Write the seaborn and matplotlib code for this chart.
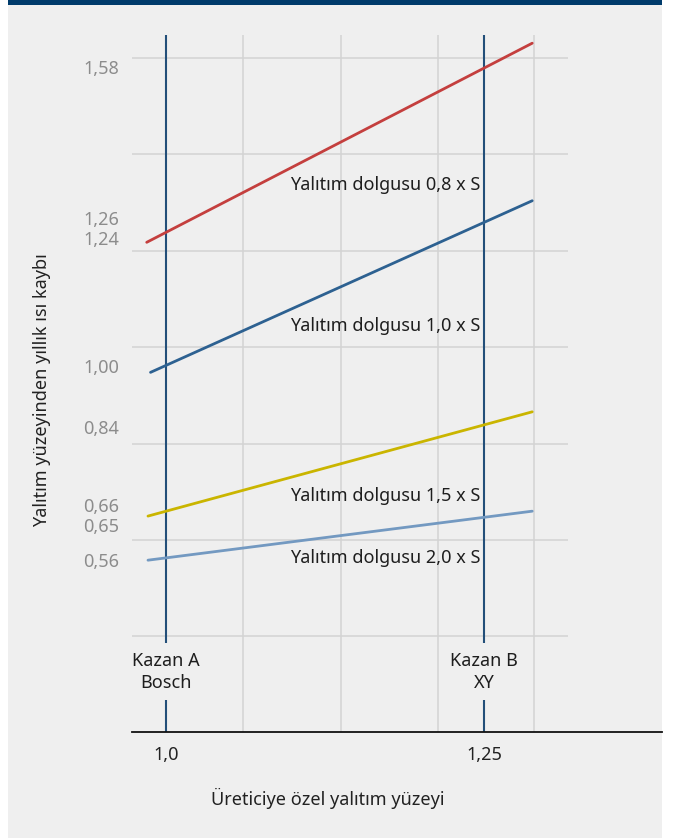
import matplotlib
matplotlib.use("Agg")
import matplotlib.pyplot as plt
import seaborn as sns
import pandas as pd
from matplotlib.patches import Rectangle

# ---- data (schematic units) ----
series = ["Yalıtım dolgusu 0,8 x S", "Yalıtım dolgusu 1,0 x S",
          "Yalıtım dolgusu 1,5 x S", "Yalıtım dolgusu 2,0 x S"]
x_start = [0.985, 0.988, 0.986, 0.986]
x_end = [1.288, 1.288, 1.288, 1.288]
y_start = [4.086, 2.738, 1.248, 0.791]
y_end = [6.150, 4.517, 2.329, 1.299]
label_y = [4.68, 3.22, 1.455, 0.812]
colors = ["#c43f3e", "#2d6191", "#cab500", "#7399c1"]

ytick_pos = [5.900, 4.335, 4.127, 2.803, 2.174, 1.362, 1.154, 0.791]
ytick_labels = ["1,58", "1,26", "1,24", "1,00", "0,84", "0,66", "0,65", "0,56"]
xtick_pos = [1.0, 1.25]
xtick_labels = ["1,0", "1,25"]
boiler_labels = ["Kazan A\nBosch", "Kazan B\nXY"]
grid_x = [1.0604, 1.1374, 1.2136, 1.2892]
grid_y = [0, 1, 2, 3, 4, 5, 6]

rows = []
for name, xs, xe, ys, ye in zip(series, x_start, x_end, y_start, y_end):
    rows.append({"seri": name, "x": xs, "y": ys})
    rows.append({"seri": name, "x": xe, "y": ye})
df = pd.DataFrame(rows)

sns.set_theme(style="white")
plt.rcParams["font.family"] = ["Noto Sans", "DejaVu Sans"]

FS = 13
BG = "#efefef"
fig = plt.figure(figsize=(6.81, 8.38), dpi=100, facecolor="white")
fig.patches.append(Rectangle((8 / 681, 0), (662 - 8) / 681, 1,
                             transform=fig.transFigure, facecolor=BG,
                             edgecolor="none", zorder=-10))
fig.patches.append(Rectangle((8 / 681, 1 - 5 / 838), (662 - 8) / 681, 5 / 838,
                             transform=fig.transFigure, facecolor="#003b6b",
                             edgecolor="none", zorder=-9))

ax = fig.add_axes([132 / 681, (838 - 732) / 838, 530 / 681, 697 / 838])
ax.set_facecolor("none")
ax.set_xlim(0.97344, 1.3900)
ax.set_ylim(-0.99, 6.235)

# grid
ax.hlines(grid_y, 0.97344, 1.3165, color="#d3d3d3", lw=1.1, zorder=1)
for gx in grid_x:
    ax.axvline(gx, color="#d3d3d3", lw=1.1, zorder=1)
for bx in xtick_pos:
    ax.axvline(bx, color="#234f79", lw=1.5, zorder=2)

sns.lineplot(data=df, x="x", y="y", hue="seri", palette=colors,
             linewidth=2.0, legend=False, ax=ax, zorder=3)

for name, ly in zip(series, label_y):
    ax.text(1.098, ly, name, fontsize=FS, color="#1e1e1e",
            ha="left", va="center", zorder=4)

for bx, bl in zip(xtick_pos, boiler_labels):
    ax.text(bx, -0.365, bl, fontsize=FS, color="#1e1e1e", ha="center",
            va="center", linespacing=1.3, zorder=4,
            bbox=dict(boxstyle="square,pad=0.45", facecolor=BG, edgecolor="none"))

ax.set_yticks(ytick_pos)
ax.set_yticklabels(ytick_labels)
ax.set_xticks(xtick_pos)
ax.set_xticklabels(xtick_labels)
ax.tick_params(axis="y", length=0, pad=9.5, labelsize=FS, labelcolor="#8c8c8c")
ax.tick_params(axis="x", length=0, pad=10, labelsize=FS, labelcolor="#222222")

for s in ["left", "right", "top"]:
    ax.spines[s].set_visible(False)
ax.spines["bottom"].set_color("#111111")
ax.spines["bottom"].set_linewidth(1.3)

ax.set_xlabel("Üreticiye özel yalıtım yüzeyi", fontsize=FS, color="#222222")
ax.xaxis.set_label_coords(0.369, -0.095)
ax.xaxis.label.set_va("center")
ax.set_ylabel("Yalıtım yüzeyinden yıllık ısı kaybı", fontsize=FS, color="#222222")
ax.yaxis.set_label_coords(-0.169, 0.4907)
ax.yaxis.label.set_va("center")

fig.savefig("out.png", dpi=100, facecolor="white")
